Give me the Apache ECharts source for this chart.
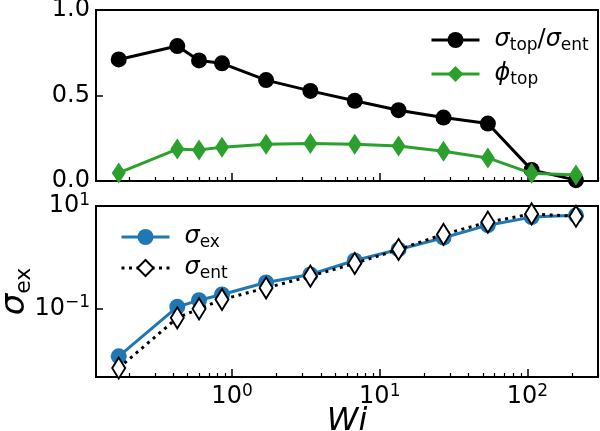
<!DOCTYPE html>
<html><head><meta charset="utf-8">
<script src="https://cdn.jsdelivr.net/npm/echarts@6/dist/echarts.min.js"></script>
<style>html,body{margin:0;padding:0;background:#fff}#c{width:600px;height:431px}</style>
</head><body><div id="c"></div>
<script>
// ---- data ----
const wi = [0.171, 0.426, 0.598, 0.855, 1.70, 3.39, 6.77, 13.4, 27.0, 53.9, 106.6, 212.8];
const ratioTopEnt = [0.711, 0.789, 0.705, 0.688, 0.590, 0.527, 0.469, 0.414, 0.371, 0.336, 0.065, 0.005];
const phiTop = [0.047, 0.187, 0.182, 0.197, 0.215, 0.219, 0.215, 0.205, 0.174, 0.135, 0.045, 0.035];
const sigmaEx = [0.0117, 0.108, 0.145, 0.188, 0.322, 0.462, 0.867, 1.42, 2.41, 4.23, 6.07, 6.58];
const sigmaEnt = [0.0069, 0.0658, 0.0986, 0.150, 0.252, 0.428, 0.758, 1.42, 2.80, 4.84, 7.01, 6.29];
const xMajorTicks = [1, 10, 100];
const xMinorTicks = [0.2,0.3,0.4,0.5,0.6,0.7,0.8,0.9,2,3,4,5,6,7,8,9,20,30,40,50,60,70,80,90,200,300];
const yBottomTicks = [0.1, 10];
const names = {
  ratio: 'sigma_top/sigma_ent',
  phi: 'phi_top',
  ex: 'sigma_ex',
  ent: 'sigma_ent'
};
const richLabels = {
  'sigma_top/sigma_ent': '{i|σ}{s|top}{n|/}{i|σ}{s|ent}',
  'phi_top': '{i|ϕ}{s|top}',
  'sigma_ex': '{i|σ}{s|ex}',
  'sigma_ent': '{i|σ}{s|ent}'
};

const FONT = 'DejaVu Sans';
const pair = (xs, ys) => xs.map((x, i) => [x, ys[i]]);
const supFmt = v => {
  const e = Math.round(Math.log10(v));
  return '{b|10}{sup|' + (e < 0 ? '\u2212' + (-e) : e) + '}';
};
const supRich = {
  b: {fontFamily: FONT, fontSize: 24, lineHeight: 28, color: '#000'},
  sup: {fontFamily: FONT, fontSize: 17, lineHeight: 16, verticalAlign: 'top', color: '#000'}
};
const legRich = {
  i: {fontFamily: FONT, fontSize: 24, fontStyle: 'italic', lineHeight: 28, color: '#000'},
  n: {fontFamily: FONT, fontSize: 24, lineHeight: 28, color: '#000'},
  s: {fontFamily: FONT, fontSize: 17, lineHeight: 20, verticalAlign: 'bottom', color: '#000'}
};
const XMIN = 0.12, XMAX = 300;

function xAxes(gridIndex, withLabels) {
  return [
    {
      type: 'log', gridIndex, min: XMIN, max: XMAX, position: 'bottom',
      axisLine: {show: false}, splitLine: {show: false},
      axisTick: {show: true, inside: true, length: 8, lineStyle: {color: '#000', width: 1.5}, customValues: xMajorTicks},
      axisLabel: withLabels ? {show: true, margin: 6, formatter: supFmt, rich: supRich, customValues: xMajorTicks} : {show: false},
      name: withLabels ? 'Wi' : '', nameLocation: 'middle', nameGap: 29, nameMoveOverlap: false,
      nameTextStyle: {fontFamily: FONT, fontSize: 32, fontStyle: 'italic', color: '#000'}
    },
    {
      type: 'log', gridIndex, min: XMIN, max: XMAX, position: 'bottom',
      axisLine: {show: false}, splitLine: {show: false},
      axisTick: {show: true, inside: true, length: 4, lineStyle: {color: '#000', width: 1.2}, customValues: xMinorTicks},
      axisLabel: {show: false}
    }
  ];
}

const chart = echarts.init(document.getElementById('c'), null, {renderer: 'canvas'});
chart.setOption({
  animation: false,
  backgroundColor: '#fff',
  grid: [
    {left: 96, right: 2, top: 10, height: 171, outerBoundsMode: 'none', containLabel: false, show: true, borderColor: '#000', borderWidth: 2, backgroundColor: 'transparent'},
    {left: 96, right: 2, top: 206, height: 171, outerBoundsMode: 'none', containLabel: false, show: true, borderColor: '#000', borderWidth: 2, backgroundColor: 'transparent'}
  ],
  xAxis: [...xAxes(0, false), ...xAxes(1, true)],
  yAxis: [
    {
      type: 'value', gridIndex: 0, min: 0, max: 1, interval: 0.5,
      axisLine: {show: false}, splitLine: {show: false},
      axisTick: {inside: true, length: 7, lineStyle: {color: '#000', width: 1.5}},
      axisLabel: {fontFamily: FONT, fontSize: 24, color: '#000', margin: 6, formatter: v => v.toFixed(1)}
    },
    {
      type: 'log', gridIndex: 1, min: 0.00462, max: 10,
      axisLine: {show: false}, splitLine: {show: false},
      axisTick: {inside: true, length: 7, lineStyle: {color: '#000', width: 1.5}, customValues: yBottomTicks},
      axisLabel: {margin: 6, formatter: supFmt, rich: supRich, customValues: yBottomTicks},
      name: '{i|σ}{s|ex}', nameLocation: 'middle', nameRotate: 90, nameGap: 61, nameMoveOverlap: false,
      nameTextStyle: {rich: {
        i: {fontFamily: FONT, fontSize: 34, fontStyle: 'italic', lineHeight: 40, color: '#000'},
        s: {fontFamily: FONT, fontSize: 22, lineHeight: 28, verticalAlign: 'bottom', color: '#000'}
      }}
    }
  ],
  legend: [
    {
      data: [names.ratio, names.phi], orient: 'vertical', left: 425, top: 23,
      itemWidth: 48, itemHeight: 20, itemGap: 8,
      formatter: n => richLabels[n],
      lineStyle: {width: 3},
      textStyle: {rich: legRich, padding: [0, 0, 0, 10]}
    },
    {
      data: [names.ex, names.ent], orient: 'vertical', left: 115, top: 220,
      itemWidth: 48, itemHeight: 20, itemGap: 5,
      formatter: n => richLabels[n],
      lineStyle: {width: 3},
      textStyle: {rich: legRich, padding: [0, 0, 0, 10]}
    }
  ],
  series: [
    {
      name: names.ratio, type: 'line', xAxisIndex: 0, yAxisIndex: 0,
      data: pair(wi, ratioTopEnt), symbol: 'circle', symbolSize: 16,
      lineStyle: {color: '#000', width: 3}, itemStyle: {color: '#000'}, z: 2
    },
    {
      name: names.phi, type: 'line', xAxisIndex: 0, yAxisIndex: 0,
      data: pair(wi, phiTop), symbol: 'diamond', symbolSize: [14, 21],
      lineStyle: {color: '#2ca02c', width: 3}, itemStyle: {color: '#2ca02c'}, z: 3
    },
    {
      name: names.ex, type: 'line', xAxisIndex: 2, yAxisIndex: 1,
      data: pair(wi, sigmaEx), symbol: 'circle', symbolSize: 16,
      lineStyle: {color: '#1f77b4', width: 3}, itemStyle: {color: '#1f77b4'}, z: 2
    },
    {
      name: names.ent, type: 'line', xAxisIndex: 2, yAxisIndex: 1,
      data: pair(wi, sigmaEnt), symbol: 'diamond', symbolSize: [13, 21],
      lineStyle: {color: '#000', width: 3, type: [3, 4.5], cap: 'butt'},
      itemStyle: {color: '#fff', borderColor: '#000', borderWidth: 2}, z: 3
    }
  ]
});
</script>
</body></html>
